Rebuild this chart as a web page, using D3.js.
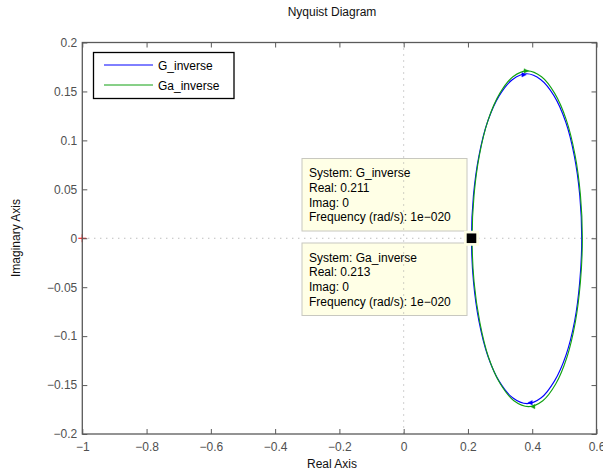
<!DOCTYPE html>
<html><head><meta charset="utf-8">
<script src="https://cdn.jsdelivr.net/npm/d3@7"></script>
<style>
body{margin:0;background:#fff;}
text{font-family:"Liberation Sans",Arial,sans-serif;}
</style></head>
<body><svg id="chart" width="603" height="475"></svg>
<script>
// ---- data ----
const xTicks = [-1, -0.8, -0.6, -0.4, -0.2, 0, 0.2, 0.4, 0.6];
const xTickLabels = ["\u22121", "\u22120.8", "\u22120.6", "\u22120.4", "\u22120.2", "0", "0.2", "0.4", "0.6"];
const yTicks = [-0.2, -0.15, -0.1, -0.05, 0, 0.05, 0.1, 0.15, 0.2];
const yTickLabels = ["\u22120.2", "\u22120.15", "\u22120.1", "\u22120.05", "0", "0.05", "0.1", "0.15", "0.2"];

// G_inverse (blue) points around the closed contour
const gX = [0.554, 0.548, 0.531, 0.504, 0.468, 0.427, 0.383, 0.338, 0.297, 0.261, 0.234, 0.217, 0.211,
            0.217, 0.234, 0.261, 0.297, 0.339, 0.384, 0.428, 0.469, 0.505, 0.532, 0.548];
const gY = [0, 0.0435, 0.084, 0.119, 0.1455, 0.162, 0.168, 0.162, 0.1455, 0.119, 0.084, 0.0435, 0,
            -0.0437, -0.0845, -0.1195, -0.146, -0.163, -0.169, -0.163, -0.146, -0.1195, -0.0845, -0.0437];
// Ga_inverse (green)
const gaX = [0.556, 0.550, 0.533, 0.506, 0.470, 0.429, 0.385, 0.340, 0.299, 0.263, 0.236, 0.219, 0.213,
             0.219, 0.237, 0.264, 0.301, 0.343, 0.389, 0.433, 0.473, 0.508, 0.534, 0.550];
const gaY = [0, 0.0443, 0.0855, 0.121, 0.148, 0.165, 0.171, 0.165, 0.148, 0.121, 0.0855, 0.0443, 0,
             -0.0445, -0.086, -0.1216, -0.149, -0.166, -0.172, -0.166, -0.149, -0.1216, -0.086, -0.0445];

// arrow markers [x, y, direction(+1 right / -1 left)]
const gArrows = [[0.374, 0.167, 1], [0.394, -0.168, -1]];
const gaArrows = [[0.381, 0.171, 1], [0.402, -0.172, -1]];

const seriesNames = ["G_inverse", "Ga_inverse"];
const seriesColors = ["#0000ff", "#10a010"];

const tip1 = ["System: G_inverse", "Real: 0.211", "Imag: 0", "Frequency (rad/s): 1e\u2212020"];
const tip2 = ["System: Ga_inverse", "Real: 0.213", "Imag: 0", "Frequency (rad/s): 1e\u2212020"];
const tipPoint = [0.211, 0];
const criticalPoint = [-1, 0];

// ---- layout ----
const svg = d3.select("#chart");
const L = 82.3, R = 596.5, T = 42.5, B = 434;
const x = d3.scaleLinear().domain([-1, 0.6]).range([L, R]);
const y = d3.scaleLinear().domain([-0.2, 0.2]).range([B, T]);

// zero line (dotted)
svg.append("line").attr("x1", L).attr("x2", R).attr("y1", y(0)).attr("y2", y(0))
  .attr("stroke", "#a0a0a0").attr("stroke-dasharray", "1,5");

// curves
const line = d3.line().x(d => x(d[0])).y(d => y(d[1])).curve(d3.curveCatmullRomClosed);
const gPts = gX.map((v, i) => [v, gY[i]]);
const gaPts = gaX.map((v, i) => [v, gaY[i]]);
svg.append("path").attr("d", line(gPts)).attr("fill", "none").attr("stroke", seriesColors[0]).attr("stroke-width", 1.1);
svg.append("path").attr("d", line(gaPts)).attr("fill", "none").attr("stroke", seriesColors[1]).attr("stroke-width", 1.1);

function arrows(list, color) {
  svg.append("g").selectAll("path").data(list).join("path")
    .attr("d", d => {
      const cx = x(d[0]), cy = y(d[1]), s = d[2];
      return `M${cx + 2.5 * s},${cy} L${cx - 2 * s},${cy - 2.2} L${cx - 2 * s},${cy + 2.2} Z`;
    })
    .attr("fill", color).attr("stroke", color).attr("stroke-width", 0.4);
}
arrows(gArrows, seriesColors[0]);
arrows(gaArrows, seriesColors[1]);

// critical point marker
svg.append("path")
  .attr("d", `M${x(criticalPoint[0]) - 4},${y(criticalPoint[1])} h8 M${x(criticalPoint[0])},${y(criticalPoint[1]) - 4} v8`)
  .attr("stroke", "#ff0000").attr("stroke-width", 1.2);

// data tips
function tipBox(lines, top) {
  const g = svg.append("g");
  g.append("rect").attr("x", 302).attr("y", top).attr("width", 165).attr("height", 72.5)
    .attr("fill", "#ffffe6").attr("stroke", "#c8c8c0").attr("stroke-width", 1);
  g.selectAll("text").data(lines).join("text")
    .attr("x", 309).attr("y", (d, i) => top + 18.5 + i * 14.8)
    .attr("font-size", 12).attr("fill", "#000").text(d => d);
}
tipBox(tip1, 158.5);
tipBox(tip2, 243);

// vertical zero line drawn over tips
svg.append("line").attr("x1", x(0)).attr("x2", x(0)).attr("y1", T).attr("y2", B)
  .attr("stroke", "#a0a0a0").attr("stroke-dasharray", "1,5");

// datatip marker
svg.append("rect").attr("x", x(tipPoint[0]) - 7.5).attr("y", y(tipPoint[1]) - 7.5).attr("width", 15).attr("height", 15)
  .attr("fill", "#ffffe6");
svg.append("rect").attr("x", x(tipPoint[0]) - 4.8).attr("y", y(tipPoint[1]) - 4.8).attr("width", 9.6).attr("height", 9.6)
  .attr("fill", "#000");

// axes box & ticks
const axCol = "#5a5a5a";
svg.append("rect").attr("x", L).attr("y", T).attr("width", R - L).attr("height", B - T)
  .attr("fill", "none").attr("stroke", axCol).attr("stroke-width", 1.3);

const xAxisB = d3.axisBottom(x).tickValues(xTicks).tickSize(-5).tickFormat((d, i) => xTickLabels[i]).tickPadding(8);
const xAxisT = d3.axisTop(x).tickValues(xTicks).tickSize(-5).tickFormat("");
const yAxisL = d3.axisLeft(y).tickValues(yTicks).tickSize(-5).tickFormat((d, i) => yTickLabels[i]).tickPadding(5);
const yAxisR = d3.axisRight(y).tickValues(yTicks).tickSize(-5).tickFormat("");

function style(g) {
  g.select(".domain").remove();
  g.selectAll(".tick line").attr("stroke", axCol);
  g.selectAll(".tick text").attr("fill", "#505050").attr("font-size", 12)
    .attr("font-family", "Liberation Sans, Arial, sans-serif");
}
svg.append("g").attr("transform", `translate(0,${B})`).call(xAxisB).call(style);
svg.append("g").attr("transform", `translate(0,${T})`).call(xAxisT).call(style);
svg.append("g").attr("transform", `translate(${L},0)`).call(yAxisL).call(style);
svg.append("g").attr("transform", `translate(${R},0)`).call(yAxisR).call(style);

// titles
svg.append("text").attr("x", 332).attr("y", 16).attr("text-anchor", "middle")
  .attr("font-size", 12).attr("fill", "#111").text("Nyquist Diagram");
svg.append("text").attr("x", 332).attr("y", 468).attr("text-anchor", "middle")
  .attr("font-size", 12).attr("fill", "#111").text("Real Axis");
svg.append("text").attr("transform", "translate(20,238) rotate(-90)").attr("text-anchor", "middle")
  .attr("font-size", 12).attr("fill", "#111").text("Imaginary Axis");

// legend
const lg = svg.append("g");
lg.append("rect").attr("x", 93.5).attr("y", 52.5).attr("width", 140.5).attr("height", 46)
  .attr("fill", "#fff").attr("stroke", "#000").attr("stroke-width", 1.3);
seriesNames.forEach((n, i) => {
  const yy = 65 + i * 20;
  lg.append("line").attr("x1", 104).attr("x2", 153).attr("y1", yy).attr("y2", yy)
    .attr("stroke", seriesColors[i]).attr("stroke-width", 1);
  lg.append("text").attr("x", 158).attr("y", yy + 4.5).attr("font-size", 12).attr("fill", "#000").text(n);
});
</script></body></html>
